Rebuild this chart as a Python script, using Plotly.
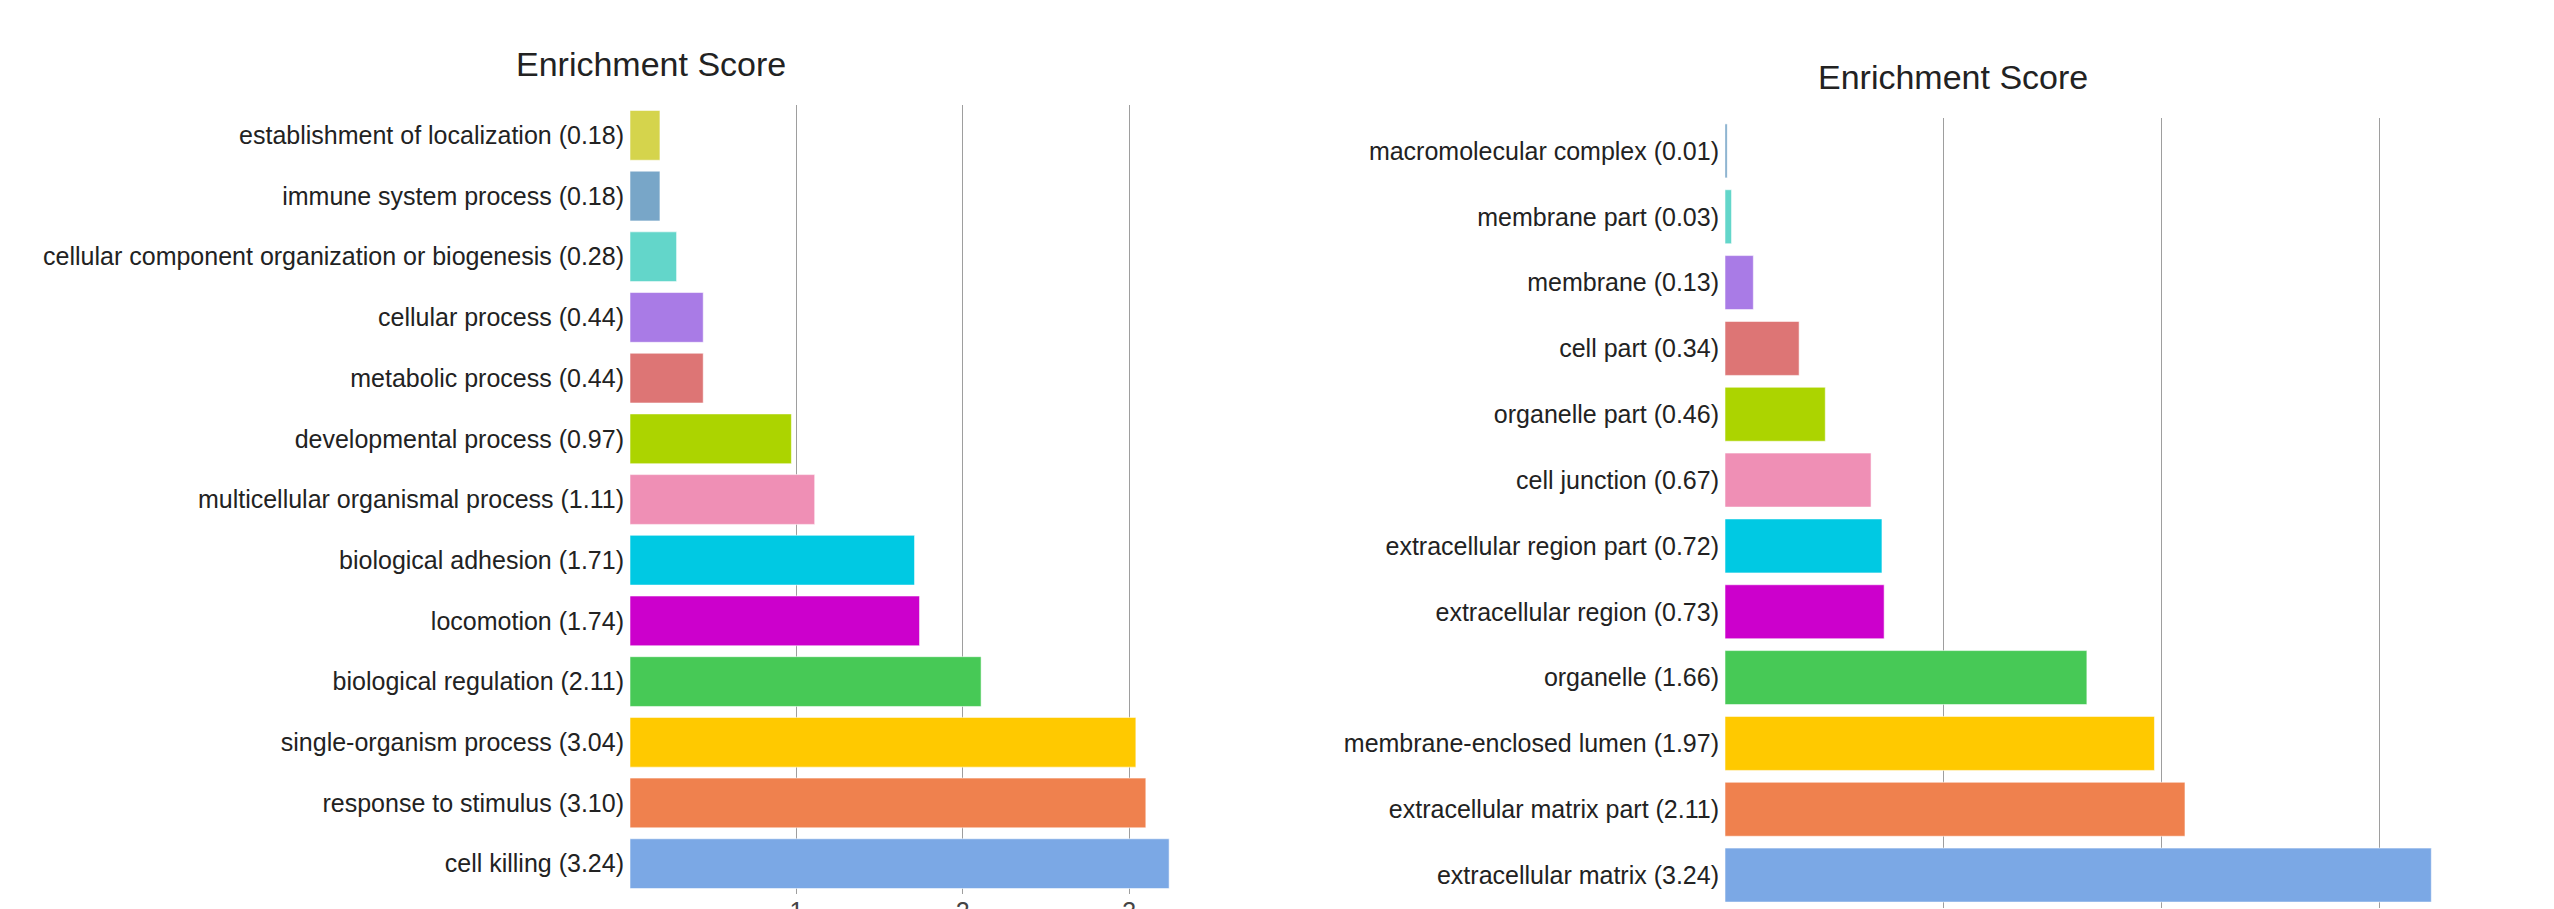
import plotly.graph_objects as go

W, H = 2554, 909

# ---------------- data ----------------
left_names = [
    "establishment of localization", "immune system process",
    "cellular component organization or biogenesis", "cellular process",
    "metabolic process", "developmental process",
    "multicellular organismal process", "biological adhesion", "locomotion",
    "biological regulation", "single-organism process",
    "response to stimulus", "cell killing",
]
left_values = [0.18, 0.18, 0.28, 0.44, 0.44, 0.97, 1.11, 1.71, 1.74, 2.11, 3.04, 3.10, 3.24]
left_colors = ["#d5d44c", "#78a6c8", "#63d6ca", "#a97be6", "#dd7575", "#acd400",
               "#ef8fb5", "#00c9e3", "#cc00cc", "#47c956", "#ffc900", "#ef814e", "#7ba8e5"]

right_names = [
    "macromolecular complex", "membrane part", "membrane", "cell part",
    "organelle part", "cell junction", "extracellular region part",
    "extracellular region", "organelle", "membrane-enclosed lumen",
    "extracellular matrix part", "extracellular matrix",
]
right_values = [0.01, 0.03, 0.13, 0.34, 0.46, 0.67, 0.72, 0.73, 1.66, 1.97, 2.11, 3.24]
right_colors = ["#78a6c8", "#63d6ca", "#a97be6", "#dd7575", "#acd400", "#ef8fb5",
                "#00c9e3", "#cc00cc", "#47c956", "#ffc900", "#ef814e", "#7ba8e5"]

x_ticks = [1, 2, 3]
title_text = "Enrichment Score"

left_labels = [f"{n} ({v:.2f})" for n, v in zip(left_names, left_values)]
right_labels = [f"{n} ({v:.2f})" for n, v in zip(right_names, right_values)]

FONT = "Liberation Sans, Arial, sans-serif"

fig = go.Figure()
fig.add_trace(go.Bar(
    x=left_values, y=left_labels, orientation="h",
    marker=dict(color=left_colors, line=dict(color="rgba(255,255,255,0.55)", width=1)),
    xaxis="x", yaxis="y", hoverinfo="x+y", showlegend=False,
))
fig.add_trace(go.Bar(
    x=right_values, y=right_labels, orientation="h",
    marker=dict(color=right_colors, line=dict(color="rgba(255,255,255,0.55)", width=1)),
    xaxis="x2", yaxis="y2", hoverinfo="x+y", showlegend=False,
))

def px_x(p):
    return p / W

def px_y(p):  # pixel from top -> paper
    return (H - p) / H

# plot geometry (pixels)
L_x0, L_x1, L_top, L_bot = 630, 1260, 105, 894
L_unit = 166.4
R_x0, R_x1, R_top, R_bot = 1725, 2500, 118, 908
R_unit = 218.0

axis_common = dict(
    showgrid=True, gridcolor="#9e9e9e", gridwidth=1, zeroline=False,
    showline=False, ticks="", tickvals=x_ticks, automargin=False,
    tickfont=dict(family=FONT, size=25, color="#444444"),
    fixedrange=True,
)
yaxis_common = dict(
    type="category", showgrid=False, zeroline=False, showline=False,
    ticks="", automargin=False, ticklabelstandoff=5,
    tickfont=dict(family=FONT, size=25, color="#222222"),
    fixedrange=True,
)

fig.update_layout(
    width=W, height=H,
    margin=dict(l=0, r=0, t=0, b=0, autoexpand=False),
    paper_bgcolor="white", plot_bgcolor="white",
    bargap=0.18,
    xaxis=dict(domain=[px_x(L_x0), px_x(L_x1)],
               range=[0, (L_x1 - L_x0) / L_unit], anchor="y", **axis_common),
    yaxis=dict(domain=[px_y(L_bot), px_y(L_top)], anchor="x",
               range=[len(left_labels) - 0.5, -0.5], **yaxis_common),
    xaxis2=dict(domain=[px_x(R_x0), px_x(R_x1)],
                range=[0, (R_x1 - R_x0) / R_unit], anchor="y2", **axis_common),
    yaxis2=dict(domain=[px_y(R_bot), px_y(R_top)], anchor="x2",
                range=[len(right_labels) - 0.5, -0.5], **yaxis_common),
    annotations=[
        dict(text=title_text, x=px_x(651), y=px_y(64), xref="paper", yref="paper",
             xanchor="center", yanchor="middle", showarrow=False,
             font=dict(family=FONT, size=34, color="#222222")),
        dict(text=title_text, x=px_x(1953), y=px_y(77), xref="paper", yref="paper",
             xanchor="center", yanchor="middle", showarrow=False,
             font=dict(family=FONT, size=34, color="#222222")),
    ],
)

fig.write_html("out.html")
